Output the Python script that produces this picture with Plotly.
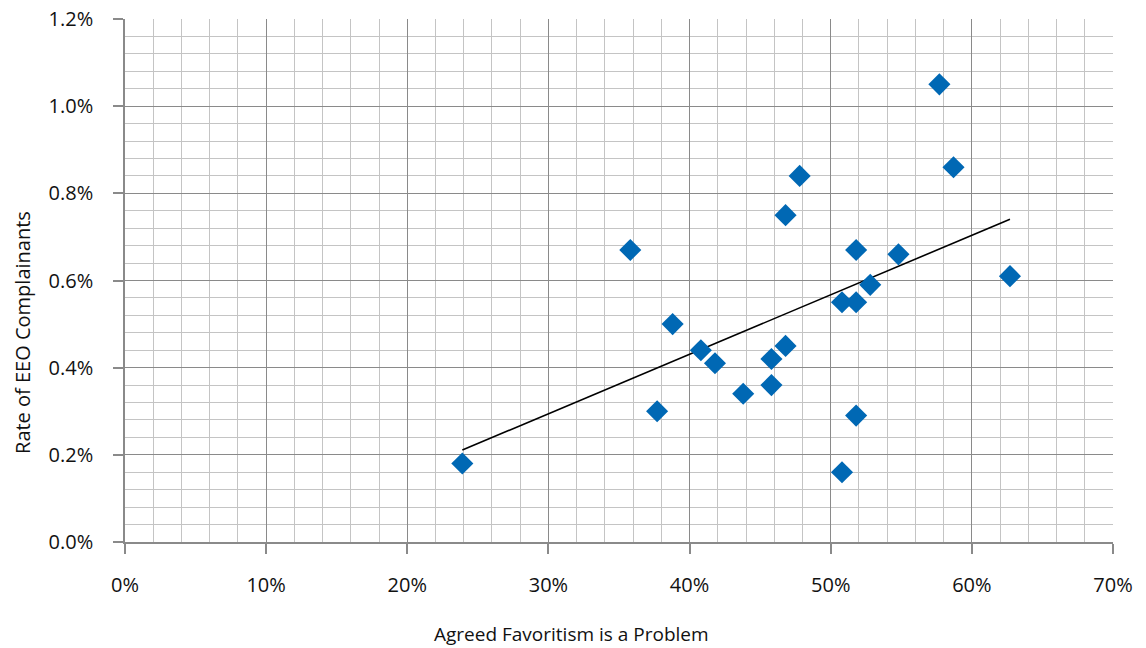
import numpy as np
import plotly.graph_objects as go

# Data (fractions)
favoritism = [0.239, 0.358, 0.377, 0.388, 0.408, 0.418, 0.438, 0.458, 0.458, 0.468,
              0.468, 0.478, 0.508, 0.508, 0.518, 0.518, 0.518, 0.528, 0.548, 0.577,
              0.587, 0.627]
eeo_rate = [0.0018, 0.0067, 0.0030, 0.0050, 0.0044, 0.0041, 0.0034, 0.0042, 0.0036, 0.0045,
            0.0075, 0.0084, 0.0055, 0.0016, 0.0055, 0.0067, 0.0029, 0.0059, 0.0066, 0.0105,
            0.0086, 0.0061]

x_ticks = [0, 0.1, 0.2, 0.3, 0.4, 0.5, 0.6, 0.7]
x_labels = ["0%", "10%", "20%", "30%", "40%", "50%", "60%", "70%"]
y_ticks = [0, 0.002, 0.004, 0.006, 0.008, 0.010, 0.012]
y_labels = ["0.0%", "0.2%", "0.4%", "0.6%", "0.8%", "1.0%", "1.2%"]
x_title = "Agreed Favoritism is a Problem"
y_title = "Rate of EEO Complainants"

# Linear trendline (least squares over data)
slope, intercept = np.polyfit(favoritism, eeo_rate, 1)
tx = [min(favoritism), max(favoritism)]
ty = [slope * v + intercept for v in tx]

fig = go.Figure()
fig.add_trace(go.Scatter(x=tx, y=ty, mode="lines",
                         line=dict(color="black", width=1.6),
                         showlegend=False, hoverinfo="skip"))
fig.add_trace(go.Scatter(x=favoritism, y=eeo_rate, mode="markers",
                         marker=dict(symbol="diamond", size=17, color="#0068B4",
                                     line=dict(width=0)),
                         showlegend=False))

font = "Open Sans, Noto Sans, sans-serif"
fig.update_layout(
    width=1138, height=640,
    margin=dict(l=117, r=33, t=11, b=106, autoexpand=False),
    paper_bgcolor="white", plot_bgcolor="white",
    font=dict(family=font, size=20, color="#111"),
    xaxis=dict(
        range=[0, 0.7], tickvals=x_ticks, ticktext=x_labels,
        automargin=False, ticklabeloverflow="allow",
        showgrid=True, gridcolor="#8a8a8a", gridwidth=1,
        minor=dict(dtick=0.02, showgrid=True, gridcolor="#c4c4c4", gridwidth=1),
        showline=True, linecolor="#8a8a8a", linewidth=1.5,
        ticks="outside", ticklen=10, tickcolor="#8a8a8a", tickwidth=1.5,
        ticklabelstandoff=14,
        zeroline=False,
    ),
    yaxis=dict(
        range=[0, 0.012], tickvals=y_ticks, ticktext=y_labels,
        automargin=False, ticklabeloverflow="allow",
        showgrid=True, gridcolor="#8a8a8a", gridwidth=1,
        minor=dict(dtick=0.0004, showgrid=True, gridcolor="#c4c4c4", gridwidth=1),
        showline=True, linecolor="#8a8a8a", linewidth=1.5,
        ticks="outside", ticklen=10, tickcolor="#8a8a8a", tickwidth=1.5,
        ticklabelstandoff=16,
        zeroline=False,
    ),
    annotations=[
        dict(text=x_title, xref="paper", yref="paper", x=0.4524, y=-0.1759,
             xanchor="center", yanchor="middle", showarrow=False,
             font=dict(size=19)),
        dict(text=y_title, xref="paper", yref="paper", x=-0.1043, y=0.4015,
             xanchor="center", yanchor="middle", showarrow=False, textangle=-90,
             font=dict(size=20)),
    ],
)

fig.write_html("out.html")
